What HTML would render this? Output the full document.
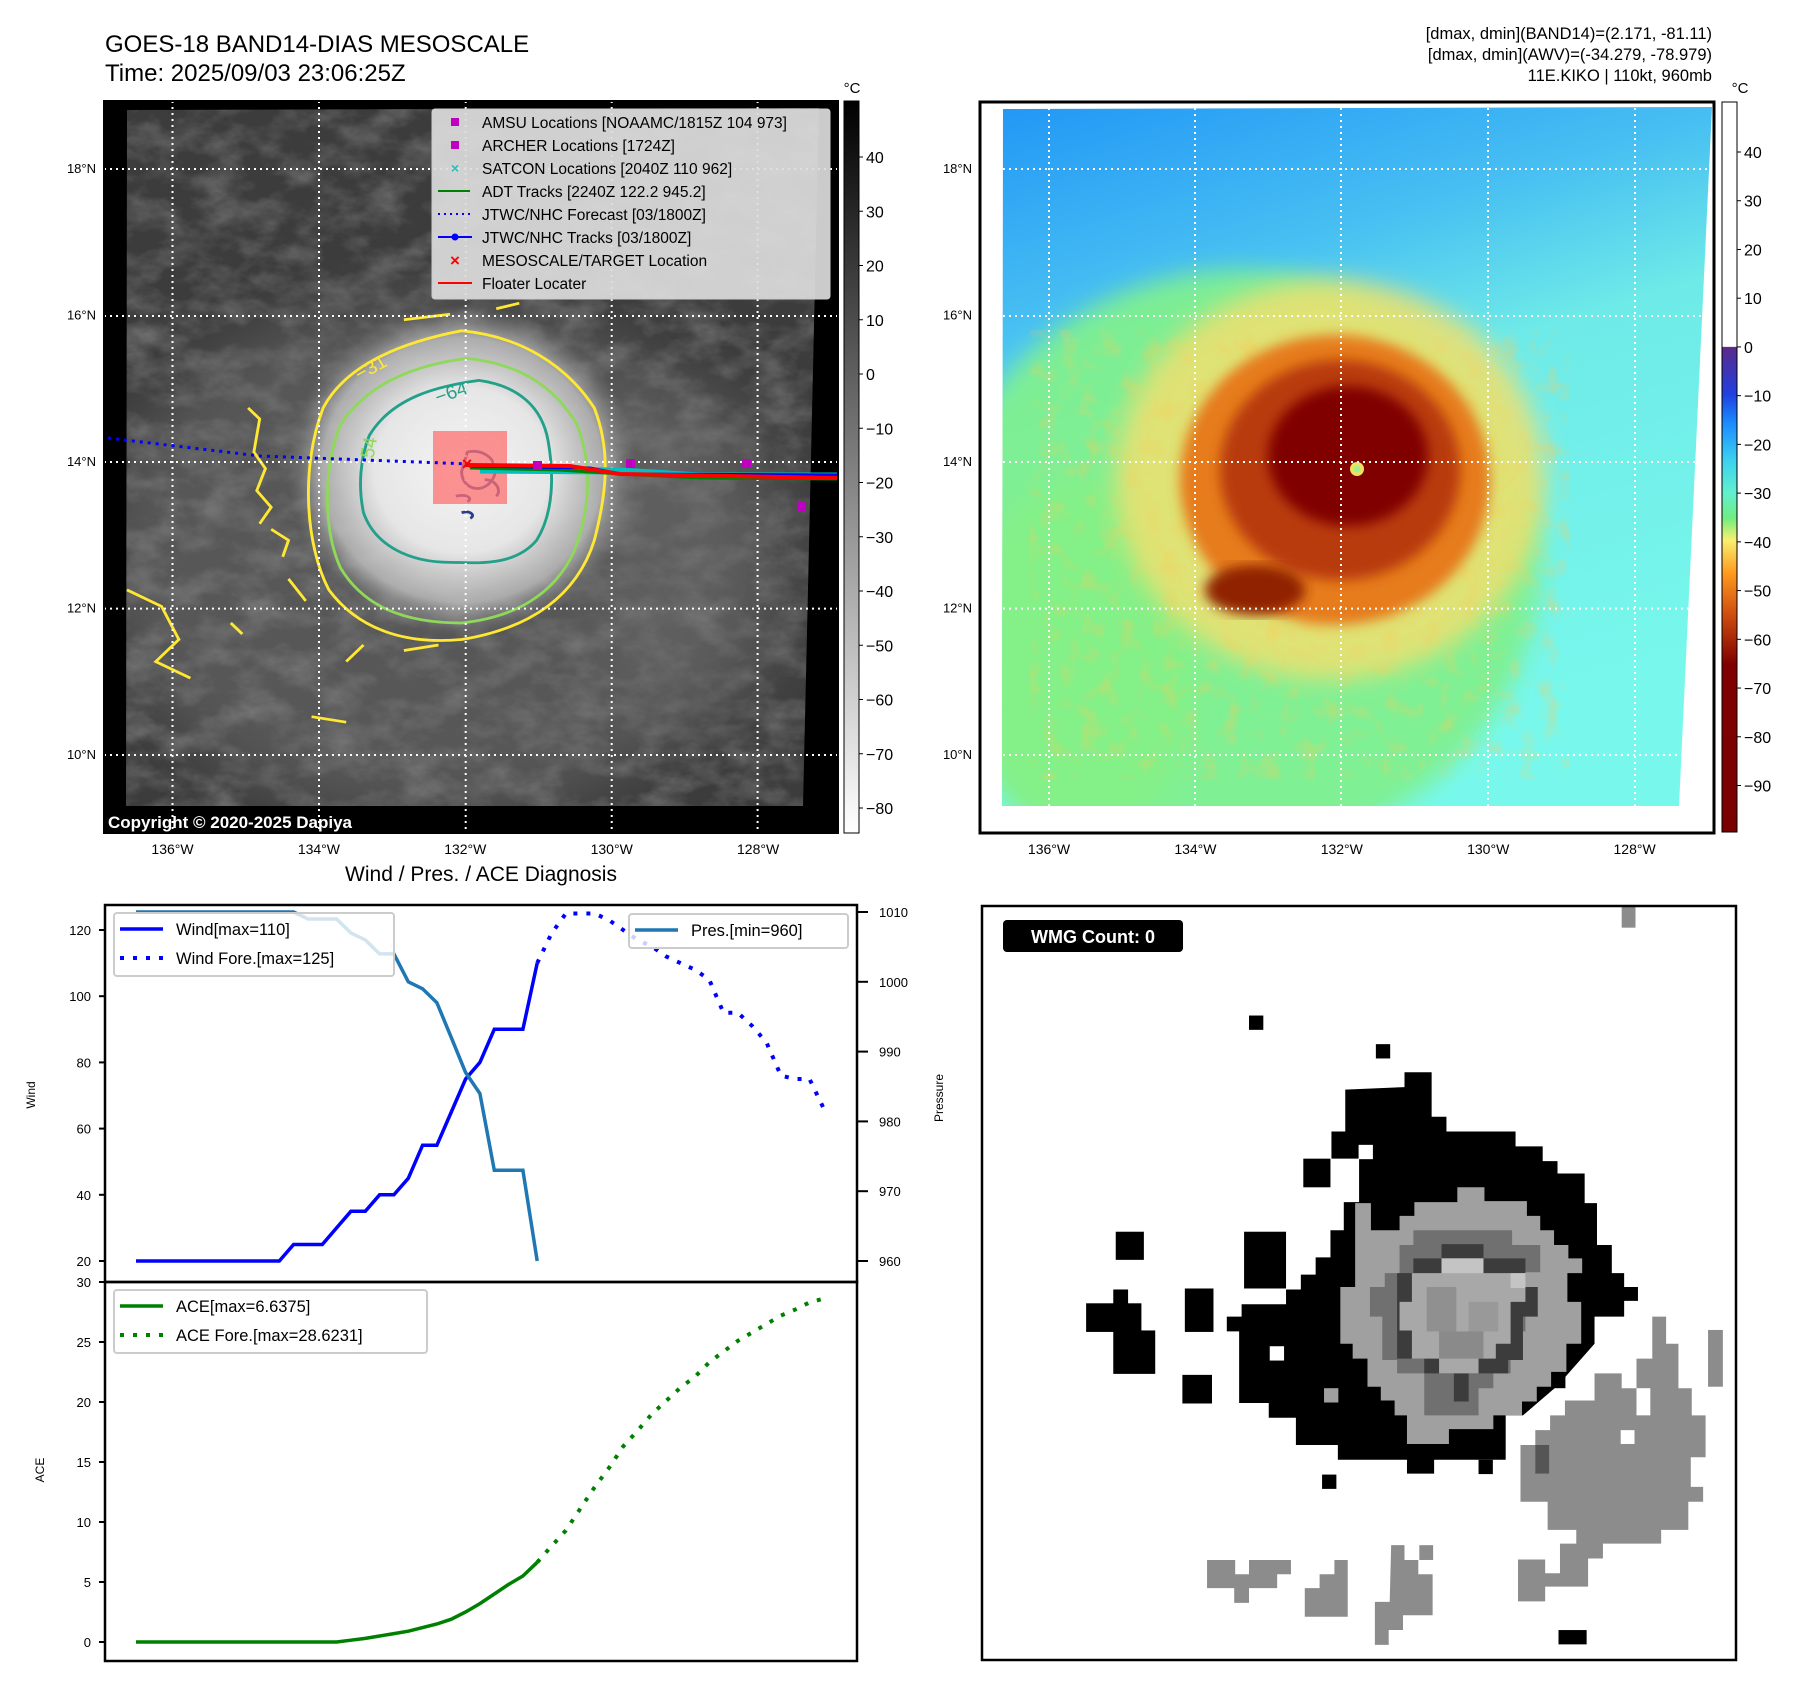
<!DOCTYPE html>
<html><head><meta charset="utf-8">
<style>
html,body{margin:0;padding:0;background:#fff;}
svg{display:block;font-family:"Liberation Sans","DejaVu Sans",sans-serif;}
</style></head>
<body>
<svg id="fig" width="1797" height="1690" viewBox="0 0 1797 1690" xmlns="http://www.w3.org/2000/svg">
<defs>
  <filter id="cloud" x="0" y="0" width="100%" height="100%">
    <feTurbulence type="fractalNoise" baseFrequency="0.025 0.04" numOctaves="4" seed="7"/>
    <feColorMatrix type="matrix" values="0 0 0 0 0.55  0 0 0 0 0.55  0 0 0 0 0.55  1.2 0 0 0 -0.45"/>
  </filter>
  <filter id="noiseC" x="0" y="0" width="100%" height="100%">
    <feTurbulence type="fractalNoise" baseFrequency="0.05" numOctaves="3" seed="3"/>
    <feColorMatrix type="matrix" values="0 0 0 0 0.95  0 0 0 0 0.6  0 0 0 0 0.1  1.6 0 0 0 -0.8"/>
  </filter>
  <filter id="blur6"><feGaussianBlur stdDeviation="6"/></filter>
  <filter id="blur12"><feGaussianBlur stdDeviation="12"/></filter>
  <filter id="blur30"><feGaussianBlur stdDeviation="30"/></filter>
  <radialGradient id="cdo" cx="0.5" cy="0.5" r="0.5">
    <stop offset="0" stop-color="#f4f4f4"/>
    <stop offset="0.5" stop-color="#e6e6e6"/>
    <stop offset="0.8" stop-color="#c0c0c0" stop-opacity="0.8"/>
    <stop offset="1" stop-color="#888" stop-opacity="0"/>
  </radialGradient>
  <linearGradient id="graybar" x1="0" y1="0" x2="0" y2="1">
    <stop offset="0" stop-color="#000"/><stop offset="1" stop-color="#fff"/>
  </linearGradient>
  <linearGradient id="colbar" x1="0" y1="0" x2="0" y2="1">
    <stop offset="0" stop-color="#fff"/>
    <stop offset="0.335" stop-color="#fff"/>
    <stop offset="0.336" stop-color="#5a2a8a"/>
    <stop offset="0.40" stop-color="#2040e0"/>
    <stop offset="0.44" stop-color="#1a8cff"/>
    <stop offset="0.49" stop-color="#3cd0f0"/>
    <stop offset="0.535" stop-color="#60f0d0"/>
    <stop offset="0.57" stop-color="#70ee80"/>
    <stop offset="0.60" stop-color="#f8f070"/>
    <stop offset="0.645" stop-color="#ff9a20"/>
    <stop offset="0.70" stop-color="#d05010"/>
    <stop offset="0.77" stop-color="#800000"/>
    <stop offset="1" stop-color="#7a0000"/>
  </linearGradient>
  <linearGradient id="rbg" x1="0" y1="0" x2="0.3" y2="1">
    <stop offset="0" stop-color="#2196f6"/>
    <stop offset="0.3" stop-color="#48c0f2"/>
    <stop offset="0.5" stop-color="#6eeae8"/>
    <stop offset="1" stop-color="#78f8ec"/>
  </linearGradient>
  <clipPath id="lclip"><polygon points="127,110 819,108 803,806 126,806"/></clipPath>
  <clipPath id="rclip"><polygon points="1003,109 1712,107 1679,806 1002,806"/></clipPath>
</defs>

<!-- Titles -->
<text x="105" y="52" font-size="24">GOES-18 BAND14-DIAS MESOSCALE</text>
<text x="105" y="81" font-size="24">Time: 2025/09/03 23:06:25Z</text>
<text x="1712" y="39" font-size="16.5" text-anchor="end">[dmax, dmin](BAND14)=(2.171, -81.11)</text>
<text x="1712" y="60" font-size="16.5" text-anchor="end">[dmax, dmin](AWV)=(-34.279, -78.979)</text>
<text x="1712" y="81" font-size="16.5" text-anchor="end">11E.KIKO | 110kt, 960mb</text>

<!-- LEFT MAP -->
<g>
  <rect x="104" y="101" width="734" height="732" fill="#000"/>
  <g clip-path="url(#lclip)">
    <rect x="120" y="100" width="710" height="710" fill="#3c3c3c"/>
    <rect x="120" y="100" width="710" height="710" filter="url(#cloud)" opacity="0.55"/>
    <ellipse cx="430" cy="560" rx="330" ry="260" fill="#8a8a8a" opacity="0.35" filter="url(#blur30)"/>
    <ellipse cx="700" cy="560" rx="110" ry="180" fill="#707070" opacity="0.3" filter="url(#blur30)"/>
    <ellipse cx="462" cy="470" rx="175" ry="165" fill="url(#cdo)"/>
    <g transform="scale(0.577,0.5513)" fill="none" stroke-width="5">
      <path stroke="#ffe833" d="M560,740 C600,660 700,620 800,600 C900,610 980,660 1030,740 C1060,820 1050,900 1030,980 C1000,1080 920,1140 800,1160 C700,1170 620,1140 570,1070 C530,990 520,850 560,740 Z"/>
      <path stroke="#ffe833" d="M430,740 l20,20 -10,60 20,30 -15,40 25,30 -20,30 M470,960 l30,20 -10,30 M220,1070 l60,30 30,60 -40,40 60,30 M540,1300 l60,10 M700,580 l80,-10 M860,560 l40,-10 M400,1130 l20,20 M500,1050 l30,40 M600,1200 l30,-30 M700,1180 l60,-10" />
      <path stroke="#8fd85a" d="M590,770 C640,690 730,660 810,650 C900,660 960,700 1000,770 C1030,850 1020,930 995,1000 C960,1080 890,1120 800,1130 C700,1130 630,1100 590,1030 C560,960 560,850 590,770 Z"/>
      <path stroke="#22a08a" d="M640,790 C680,720 760,700 830,690 C900,700 940,740 950,800 C960,860 960,930 930,980 C890,1030 820,1020 780,1020 C710,1020 650,990 630,930 C620,880 625,830 640,790 Z"/>
      <path stroke="#2a3f8a" d="M810,820 c20,-5 40,5 45,20 c10,20 -5,40 -20,45 c-20,5 -35,-10 -35,-30 z M840,870 c20,0 30,20 20,30 M790,900 c20,-5 30,5 20,10 M800,930 c15,-5 25,5 15,10"/>
      <text x="755" y="728" font-size="34" fill="#22a08a" stroke="none" transform="rotate(-20 770 720)">−64</text>
      <text x="620" y="830" font-size="34" fill="#8fd85a" stroke="none" transform="rotate(-80 635 815)">54</text>
      <text x="615" y="680" font-size="34" fill="#ffe833" stroke="none" transform="rotate(-30 640 670)">−31</text>
    </g>
  </g>
  <g stroke="#fff" stroke-width="2" stroke-dasharray="2,4">
    <line x1="172.5" y1="101" x2="172.5" y2="833"/><line x1="319" y1="101" x2="319" y2="833"/>
    <line x1="465.7" y1="101" x2="465.7" y2="833"/><line x1="611.7" y1="101" x2="611.7" y2="833"/>
    <line x1="757.6" y1="101" x2="757.6" y2="833"/>
    <line x1="104" y1="169" x2="838" y2="169"/><line x1="104" y1="316" x2="838" y2="316"/>
    <line x1="104" y1="462" x2="838" y2="462"/><line x1="104" y1="608.6" x2="838" y2="608.6"/>
    <line x1="104" y1="755" x2="838" y2="755"/>
  </g>
  <rect x="433" y="431" width="74" height="73" fill="#ff7070" opacity="0.75"/>
  <polyline points="108,438 260,456 470,464" fill="none" stroke="#0000ff" stroke-width="3" stroke-dasharray="3,5"/>
  <polyline points="480,470 620,471 700,476 838,476" fill="none" stroke="#00c0c0" stroke-width="7"/>
  <polyline points="470,468 560,470 620,474 700,478 838,479" fill="none" stroke="#008000" stroke-width="3"/>
  <polyline points="470,466 590,468 620,474 838,475" fill="none" stroke="#0000ff" stroke-width="3"/>
  <polyline points="465,465 570,466 620,474 838,478" fill="none" stroke="#ff0000" stroke-width="4"/>
  <g fill="#c000c0">
    <rect x="626" y="459" width="9" height="9"/><rect x="742" y="459" width="9" height="9"/><rect x="797" y="502" width="9" height="9"/><rect x="533" y="461" width="9" height="9"/>
  </g>
  <text x="467" y="470" fill="#ff0000" font-size="18" font-weight="bold" text-anchor="middle">×</text>
  <g>
    <rect x="432" y="109" width="398" height="190" fill="#dcdcdc" fill-opacity="0.92" stroke="#ccc" rx="3"/>
    <rect x="451" y="118" width="8" height="8" fill="#c000c0"/>
    <text x="482" y="128" font-size="15.5">AMSU Locations [NOAAMC/1815Z 104 973]</text>
    <rect x="451" y="141" width="8" height="8" fill="#c000c0"/>
    <text x="482" y="151" font-size="15.5">ARCHER Locations [1724Z]</text>
    <text x="455" y="173" font-size="14" fill="#20c0c0" text-anchor="middle" font-weight="bold">×</text>
    <text x="482" y="174" font-size="15.5">SATCON Locations [2040Z 110 962]</text>
    <line x1="438" y1="191" x2="470" y2="191" stroke="#008000" stroke-width="2"/>
    <text x="482" y="197" font-size="15.5">ADT Tracks [2240Z 122.2 945.2]</text>
    <line x1="438" y1="214" x2="472" y2="214" stroke="#0000ff" stroke-width="2" stroke-dasharray="2,4"/>
    <text x="482" y="220" font-size="15.5">JTWC/NHC Forecast [03/1800Z]</text>
    <line x1="438" y1="237" x2="472" y2="237" stroke="#0000ff" stroke-width="2"/><circle cx="455" cy="237" r="3.5" fill="#0000ff"/>
    <text x="482" y="243" font-size="15.5">JTWC/NHC Tracks [03/1800Z]</text>
    <text x="455" y="266" font-size="17" fill="#f00" text-anchor="middle" font-weight="bold">×</text>
    <text x="482" y="266" font-size="15.5">MESOSCALE/TARGET Location</text>
    <line x1="438" y1="283" x2="472" y2="283" stroke="#ff0000" stroke-width="2"/>
    <text x="482" y="289" font-size="15.5">Floater Locater</text>
  </g>
  <text x="108" y="828" font-size="17" font-weight="bold" fill="#fff">Copyright © 2020-2025 Dapiya</text>
  <rect x="104" y="101" width="734" height="732" fill="none" stroke="#000" stroke-width="2"/>
</g>
<g>
  <rect x="844" y="101" width="15" height="732" fill="url(#graybar)" stroke="#000" stroke-width="1"/>
  <text x="852" y="93" font-size="15" text-anchor="middle">°C</text>
  <g font-size="16" id="lcbticks"></g>
</g>

<!-- RIGHT MAP -->
<g>
  <rect x="980" y="102" width="734" height="731" fill="#fff"/>
  <g clip-path="url(#rclip)">
    <rect x="1000" y="100" width="720" height="710" fill="url(#rbg)"/>
    <ellipse cx="1240" cy="560" rx="300" ry="290" fill="#80f090" filter="url(#blur12)" opacity="0.95"/>
    <ellipse cx="1080" cy="660" rx="120" ry="180" fill="#84f088" filter="url(#blur12)"/>
    <g opacity="0.8">
      <ellipse cx="1310" cy="500" rx="290" ry="250" fill="#000" opacity="0"/>
    </g>
    <ellipse cx="1330" cy="480" rx="215" ry="200" fill="#f0e070" filter="url(#blur12)" opacity="0.85"/>
    <g clip-path="url(#rclip)"><rect x="1030" y="330" width="540" height="450" filter="url(#noiseC)" opacity="0.6"/></g>
    <ellipse cx="1335" cy="480" rx="155" ry="145" fill="#e67c1a" filter="url(#blur6)"/>
    <ellipse cx="1340" cy="470" rx="120" ry="110" fill="#b83a08" filter="url(#blur6)"/>
    <ellipse cx="1255" cy="590" rx="50" ry="25" fill="#902000" filter="url(#blur6)"/>
    <ellipse cx="1348" cy="456" rx="80" ry="70" fill="#800000" filter="url(#blur6)"/>
    <circle cx="1357" cy="469" r="7" fill="#f0e060"/><circle cx="1357" cy="469" r="3.5" fill="#a0f090"/>
  </g>
  <g stroke="#fff" stroke-width="2" stroke-dasharray="2,4">
    <line x1="1049" y1="102" x2="1049" y2="833"/><line x1="1195" y1="102" x2="1195" y2="833"/>
    <line x1="1341" y1="102" x2="1341" y2="833"/><line x1="1488" y1="102" x2="1488" y2="833"/>
    <line x1="1635" y1="102" x2="1635" y2="833"/>
    <line x1="1003" y1="169" x2="1712" y2="169"/><line x1="1003" y1="316" x2="1712" y2="316"/>
    <line x1="1003" y1="462" x2="1712" y2="462"/><line x1="1003" y1="608.6" x2="1712" y2="608.6"/>
    <line x1="1003" y1="755" x2="1712" y2="755"/>
  </g>
  <rect x="980" y="102" width="734" height="731" fill="none" stroke="#000" stroke-width="3"/>
</g>
<g>
  <rect x="1722" y="102" width="15" height="730" fill="url(#colbar)" stroke="#000" stroke-width="1"/>
  <text x="1740" y="93" font-size="15" text-anchor="middle">°C</text>
  <g font-size="16" id="rcbticks"></g>
</g>
<g id="maplabels" font-size="13"></g>

<text x="481" y="881" font-size="21" text-anchor="middle">Wind / Pres. / ACE Diagnosis</text>
<g id="chart"></g>

<!-- WMG PANEL -->
<g>
  <rect x="982" y="906" width="754" height="754" fill="#fff"/>
  <g transform="translate(980,902) scale(0.4936)">
    <polygon fill="#000" points="740,380 860,375 860,345 915,345 915,435 945,435 945,465 1085,465 1085,495 1140,495 1140,525 1170,525 1170,550 1225,550 1225,610 1250,610 1250,695 1280,695 1280,752 1305,752 1305,780 1333,780 1333,808 1305,808 1305,840 1245,840 1245,895 1170,980 1100,1040 1065,1040 1065,1100 1065,1130 950,1130 920,1130 920,1158 865,1158 865,1130 725,1130 725,1100 640,1100 640,1045 585,1045 585,1015 525,1015 525,870 500,870 500,840 530,840 530,815 620,815 620,785 650,785 650,755 680,755 680,720 710,720 710,665 737,665 737,608 768,608 768,520 712,520 712,465 740,465"/>
    <rect x="655" y="520" width="55" height="58" fill="#000"/>
    <rect x="535" y="668" width="85" height="115" fill="#000"/>
    <rect x="415" y="783" width="58" height="88" fill="#000"/>
    <rect x="215" y="813" width="112" height="58" fill="#000"/>
    <rect x="270" y="785" width="30" height="30" fill="#000"/>
    <rect x="270" y="868" width="85" height="88" fill="#000"/>
    <rect x="275" y="668" width="57" height="57" fill="#000"/>
    <rect x="410" y="958" width="60" height="58" fill="#000"/>
    <rect x="545" y="230" width="29" height="29" fill="#000"/>
    <rect x="802" y="288" width="29" height="29" fill="#000"/>
    <rect x="693" y="1160" width="29" height="29" fill="#000"/>
    <rect x="1010" y="1130" width="29" height="29" fill="#000"/>
    <rect x="1172" y="1475" width="57" height="29" fill="#000"/>
    <rect x="1188" y="895" width="29" height="30" fill="#000"/>
    <rect x="1157" y="955" width="29" height="30" fill="#000"/>
    <rect x="767" y="492" width="29" height="29" fill="#fff"/>
    <rect x="587" y="900" width="29" height="29" fill="#fff"/>
    <polygon fill="#a0a0a0" points="967,578 1022,578 1022,606 1108,606 1108,636 1135,636 1135,665 1163,665 1163,695 1192,695 1192,722 1220,722 1220,752 1190,752 1190,810 1218,810 1218,895 1188,895 1188,952 1157,952 1157,982 1128,982 1128,1012 1098,1012 1098,1040 1040,1040 1040,1068 950,1068 950,1098 865,1098 865,1040 840,1040 840,1010 812,1010 812,982 785,982 785,925 755,925 755,895 730,895 730,780 760,780 760,610 792,610 792,665 850,665 850,636 880,636 880,608 967,608"/>
    <rect x="697" y="985" width="29" height="29" fill="#a0a0a0"/>
    <polygon fill="#707070" points="878,665 1078,665 1078,695 1135,695 1135,750 1105,750 1105,870 1075,870 1075,955 1040,955 1040,985 1010,985 1010,1040 900,1040 900,955 845,955 845,928 815,928 815,840 790,840 790,780 820,780 820,752 850,752 850,695 878,695"/>
    <polygon fill="#3c3c3c" points="935,693 1020,693 1020,722 1105,722 1105,780 1130,780 1130,840 1100,840 1100,928 1070,928 1070,955 990,955 990,1012 960,1012 960,955 900,955 900,925 845,925 845,752 878,752 878,722 935,722"/>
    <polygon fill="#a8a8a8" points="935,722 1020,722 1020,752 1105,752 1105,810 1075,810 1075,895 1045,895 1045,925 1010,925 1010,955 930,955 930,925 875,925 875,868 850,868 850,810 875,810 875,752 935,752"/>
    <rect x="905" y="780" width="60" height="90" fill="#909090"/>
    <rect x="990" y="810" width="60" height="60" fill="#999"/>
    <rect x="930" y="870" width="90" height="55" fill="#8a8a8a"/>
    <rect x="935" y="722" width="85" height="30" fill="#c4c4c4"/>
    <rect x="1075" y="752" width="30" height="30" fill="#c4c4c4"/>
    <polygon fill="#8c8c8c" points="1245,955 1300,955 1300,985 1330,985 1330,925 1362,925 1362,840 1390,840 1390,895 1415,895 1415,985 1442,985 1442,1040 1470,1040 1470,1125 1440,1125 1440,1185 1465,1185 1465,1215 1435,1215 1435,1272 1380,1272 1380,1300 1262,1300 1262,1330 1232,1330 1232,1387 1145,1387 1145,1417 1090,1417 1090,1332 1145,1332 1145,1360 1175,1360 1175,1300 1208,1300 1208,1272 1150,1272 1150,1215 1095,1215 1095,1100 1125,1100 1125,1070 1155,1070 1155,1040 1185,1040 1185,1010 1245,1010"/>
    <rect x="1298" y="1070" width="28" height="28" fill="#fff"/>
    <rect x="1330" y="985" width="28" height="55" fill="#fff"/>
    <rect x="1125" y="1100" width="28" height="58" fill="#555"/>
    <rect x="1475" y="867" width="30" height="115" fill="#8c8c8c"/>
    <rect x="1300" y="10" width="28" height="42" fill="#8c8c8c"/>
    <polygon fill="#8c8c8c" points="460,1333 517,1333 517,1362 545,1362 545,1333 630,1333 630,1362 602,1362 602,1390 545,1390 545,1420 515,1420 515,1390 460,1390"/>
    <polygon fill="#8c8c8c" points="718,1333 745,1333 745,1448 658,1448 658,1390 688,1390 688,1362 718,1362"/>
    <polygon fill="#8c8c8c" points="833,1303 860,1303 860,1333 888,1333 888,1362 917,1362 917,1445 857,1445 857,1475 828,1475 828,1505 800,1505 800,1418 830,1418"/>
    <rect x="890" y="1303" width="28" height="30" fill="#8c8c8c"/>
  </g>
  <rect x="1003" y="920" width="180" height="32" rx="4" fill="#000"/>
  <text x="1093" y="943" font-size="18" font-weight="bold" fill="#fff" text-anchor="middle">WMG Count: 0</text>
  <rect x="982" y="906" width="754" height="754" fill="none" stroke="#000" stroke-width="2.5"/>
</g>
</svg>

<script>
// ---- chart data ----
const windHist = [20,20,20,20,20,20,20,20,20,20,20,25,25,25,30,35,35,40,40,45,55,55,65,75,80,90,90,90,110];
const windFore = [110,119,125,125,125,123,120,117,115,112,110,108,105,95,95,91,86,76,75,75,66];
const presHist = [1010,1010,1010,1010,1010,1010,1010,1010,1010,1010,1010,1010,1009,1009,1009,1007,1006,1004,1004,1000,999,997,992,987,984,973,973,973,960];
const aceHist = [0,0,0,0,0,0,0,0,0,0,0,0,0,0,0,0.15,0.3,0.5,0.7,0.9,1.2,1.5,1.9,2.5,3.2,4.0,4.8,5.5,6.64];
const aceFore = [6.64,8.0,9.3,11.1,12.9,14.5,16.3,17.6,19.0,20.1,21.2,22.1,23.3,24.2,25.1,25.8,26.5,27.2,27.7,28.3,28.62];
const windTicks = [20,40,60,80,100,120];
const presTicks = [960,970,980,990,1000,1010];
const aceTicks = [0,5,10,15,20,25,30];
const grayCbTicks = [40,30,20,10,0,-10,-20,-30,-40,-50,-60,-70,-80];
const colorCbTicks = [40,30,20,10,0,-10,-20,-30,-40,-50,-60,-70,-80,-90];
const latTicks = [18,16,14,12,10];
const lonTicks = [136,134,132,130,128];

const NS = 'http://www.w3.org/2000/svg';
function mk(tag, attrs, parent){const e=document.createElementNS(NS,tag);for(const k in attrs)e.setAttribute(k,attrs[k]);parent.appendChild(e);return e;}
const fmt = v => (v<0?'\u2212'+Math.abs(v):String(v));

const L=105, R=857, T1=905, D=1282, B=1661;
const xOf = i => 136 + i*14.33;
const yWind = w => 1261 - (w-20)*(1261-930)/100;
const yPres = p => 1261 - (p-960)*(1261-912)/50;
const yAce = a => 1642 - a*(1642-1282)/30;

const ch = document.getElementById('chart');
function line(pts, color, w, dash, name){
  const p = mk('polyline',{points:pts.map(q=>q[0].toFixed(1)+','+q[1].toFixed(1)).join(' '),fill:'none',stroke:color,'stroke-width':w},ch);
  if(dash)p.setAttribute('stroke-dasharray',dash);
  
  
  return p;
}
const f1 = mk('rect',{x:L,y:T1,width:R-L,height:D-T1,fill:'none',stroke:'#000','stroke-width':2.5},ch);


const f2 = mk('rect',{x:L,y:D,width:R-L,height:B-D,fill:'none',stroke:'#000','stroke-width':2.5},ch);



windTicks.forEach(v=>{const y=yWind(v);mk('line',{x1:L-6,y1:y,x2:L,y2:y,stroke:'#000','stroke-width':2},ch);
  const t=mk('text',{x:L-14,y:y+5,'font-size':13,'text-anchor':'end'},ch);t.textContent=v;
  
  });
presTicks.forEach(v=>{const y=yPres(v);mk('line',{x1:R,y1:y,x2:R+11,y2:y,stroke:'#000','stroke-width':2},ch);
  const t=mk('text',{x:879,y:y+5,'font-size':13},ch);t.textContent=v;
  
  });
aceTicks.forEach(v=>{const y=yAce(v);mk('line',{x1:L-6,y1:y,x2:L,y2:y,stroke:'#000','stroke-width':2},ch);
  const t=mk('text',{x:L-14,y:y+5,'font-size':13,'text-anchor':'end'},ch);t.textContent=v;
  
  });
let t;
t=mk('text',{x:0,y:0,'font-size':12,transform:'translate(35,1095) rotate(-90)','text-anchor':'middle'},ch);t.textContent='Wind';


t=mk('text',{x:0,y:0,'font-size':12,transform:'translate(943,1098) rotate(-90)','text-anchor':'middle'},ch);t.textContent='Pressure';


t=mk('text',{x:0,y:0,'font-size':12,transform:'translate(44,1470) rotate(-90)','text-anchor':'middle'},ch);t.textContent='ACE';



line(windHist.map((v,i)=>[xOf(i),yWind(v)]),'#0000ff',3.5,null,'wind-line');
line(windFore.map((v,i)=>[xOf(i+windHist.length-1),yWind(v)]),'#0000ff',4,'4,9','wind-forecast-line');
line(presHist.map((v,i)=>[xOf(i),yPres(v)]),'#1f77b4',3.5,null,'pressure-line');
line(aceHist.map((v,i)=>[xOf(i),yAce(v)]),'#008000',3.5,null,'ace-line');
line(aceFore.map((v,i)=>[xOf(i+aceHist.length-1),yAce(v)]),'#008000',4,'4,9','ace-forecast-line');

function legend(x,y,w,h,items,name){
  const g=mk('g',{},ch);
  
  
  mk('rect',{x,y,width:w,height:h,rx:3,fill:'#fff','fill-opacity':0.8,stroke:'#ccc','stroke-width':2},g);
  items.forEach((it,k)=>{const yy=y+16+k*29;
    const ln=mk('line',{x1:x+6,y1:yy,x2:x+49,y2:yy,stroke:it.c,'stroke-width':it.d?4:3.5},g);
    if(it.d)ln.setAttribute('stroke-dasharray','4,9');
    const tx=mk('text',{x:x+62,y:yy+6,'font-size':16.5},g);tx.textContent=it.t;});
}
legend(114,913,280,63,[{c:'#0000ff',t:'Wind[max=110]'},{c:'#0000ff',t:'Wind Fore.[max=125]',d:1}],'wind-legend');
legend(629,914,219,34,[{c:'#1f77b4',t:'Pres.[min=960]'}],'pressure-legend');
legend(114,1290,313,63,[{c:'#008000',t:'ACE[max=6.6375]'},{c:'#008000',t:'ACE Fore.[max=28.6231]',d:1}],'ace-legend');

const lcb=document.getElementById('lcbticks');
grayCbTicks.forEach(v=>{const y=157+(40-v)*(808-157)/120;
  mk('line',{x1:859,y1:y,x2:863,y2:y,stroke:'#000'},lcb);
  const tx=mk('text',{x:866,y:y+6},lcb);tx.textContent=fmt(v);
  
  });
const rcb=document.getElementById('rcbticks');
colorCbTicks.forEach(v=>{const y=152+(40-v)*(785.5-152)/130;
  mk('line',{x1:1737,y1:y,x2:1741,y2:y,stroke:'#000'},rcb);
  const tx=mk('text',{x:1744,y:y+6},rcb);tx.textContent=fmt(v);
  
  });

const ml=document.getElementById('maplabels');
[[104,172.5],[980,1049]].forEach(([ax,lon0])=>{
  latTicks.forEach(v=>{const y=169+(18-v)*73.25;
    const tx=mk('text',{x:ax-8,y:y+4,'text-anchor':'end'},ml);tx.textContent=v+'°N';
    
    });
  lonTicks.forEach(v=>{const x=lon0+(136-v)*73.2;
    const tx=mk('text',{x:x,y:854,'text-anchor':'middle','font-size':14},ml);tx.textContent=v+'°W';
    
    });
});
</script>
</body></html>
